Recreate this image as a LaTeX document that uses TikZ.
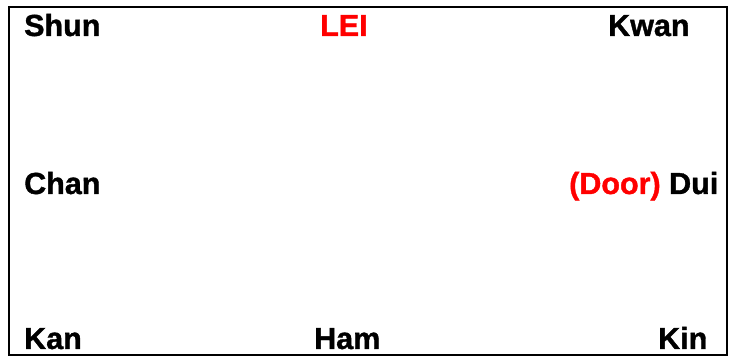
\documentclass[tikz,border=0pt]{standalone}
\usepackage{fontspec}
\setmainfont[BoldFeatures={FakeBold=1.2}]{Liberation Sans}
\definecolor{doorred}{RGB}{255, 0, 0}
\usepackage{tikz}
\usetikzlibrary{positioning}

\begin{document}
\begin{tikzpicture}[x=1pt, y=1pt,
  lbl/.style={anchor=base west, inner sep=0pt, font=\fontsize{30.5}{36}\selectfont\bfseries}]
  \useasboundingbox (0, 0) rectangle (734, 358);
  \draw[line width=1.6pt] (9, 3) rectangle (727, 351);

  % Top row
  \node[lbl] (shun) at (24, 322) {Shun};
  \node[lbl, text=doorred] (lei) at (320, 322) {LEI};
  \node[lbl] (kwan) at (608, 322) {Kwan};

  % Middle row
  \node[lbl] (chan) at (24, 164) {Chan};
  \node[lbl] (dui) at (569, 164) {\textcolor{doorred}{(Door)} Dui};

  % Bottom row
  \node[lbl] (kan) at (24, 9) {Kan};
  \node[lbl] (ham) at (314, 9) {Ham};
  \node[lbl] (kin) at (658, 9) {Kin};
\end{tikzpicture}
\end{document}
